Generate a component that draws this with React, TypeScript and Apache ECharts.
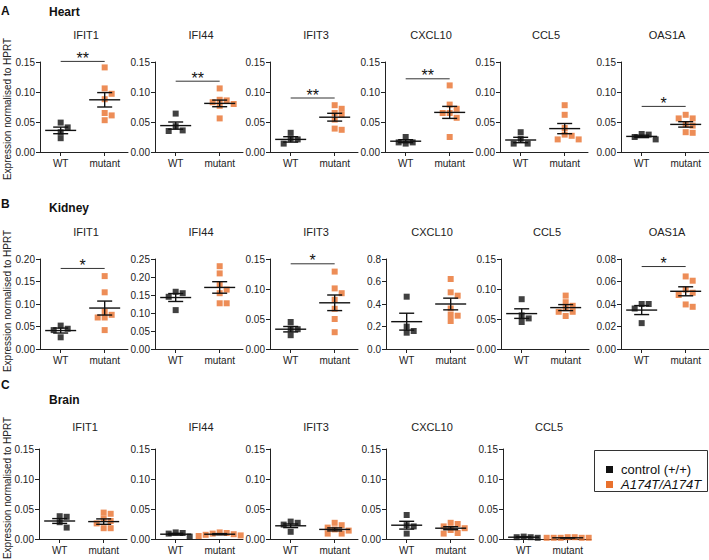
import React, { useEffect, useRef } from 'react';
import * as echarts from 'echarts';

// ---------- DATA ----------
const groupLabels = ['WT', 'mutant'];
const legendLabels = ['control (+/+)', 'A174T/A174T'];

// Heart (A)
const heartGenes = ['IFIT1', 'IFI44', 'IFIT3', 'CXCL10', 'CCL5', 'OAS1A'];
const heartWT = [
  [0.049, 0.041, 0.033, 0.023],
  [0.064, 0.043, 0.036, 0.035],
  [0.032, 0.022, 0.021, 0.014],
  [0.025, 0.016, 0.016, 0.014],
  [0.033, 0.022, 0.014, 0.014],
  [0.030, 0.029, 0.025, 0.021],
];
const heartMut = [
  [0.141, 0.106, 0.097, 0.088, 0.065, 0.061, 0.053],
  [0.106, 0.087, 0.086, 0.083, 0.080, 0.077, 0.056],
  [0.078, 0.072, 0.065, 0.062, 0.054, 0.039, 0.037],
  [0.111, 0.079, 0.072, 0.065, 0.065, 0.057, 0.025],
  [0.078, 0.062, 0.040, 0.029, 0.027, 0.021, 0.021],
  [0.062, 0.056, 0.056, 0.046, 0.044, 0.033, 0.032],
];
const heartMeanWT = [0.036, 0.044, 0.021, 0.018, 0.020, 0.026];
const heartSemWT = [0.0055, 0.006, 0.0045, 0.0025, 0.0045, 0.002];
const heartMeanMut = [0.087, 0.081, 0.058, 0.066, 0.039, 0.046];
const heartSemMut = [0.012, 0.0055, 0.0065, 0.010, 0.0085, 0.0045];
const heartYMax = [0.15, 0.15, 0.15, 0.15, 0.15, 0.15];
const heartYStep = [0.05, 0.05, 0.05, 0.05, 0.05, 0.05];
const heartSig = ['**', '**', '**', '**', '', '*'];
const heartSigY = [0.151, 0.118, 0.09, 0.122, 0, 0.076];

// Kidney (B)
const kidneyGenes = ['IFIT1', 'IFI44', 'IFIT3', 'CXCL10', 'CCL5', 'OAS1A'];
const kidneyWT = [
  [0.052, 0.045, 0.042, 0.026],
  [0.159, 0.155, 0.145, 0.108],
  [0.045, 0.034, 0.033, 0.023],
  [0.465, 0.199, 0.160, 0.145],
  [0.083, 0.056, 0.051, 0.045],
  [0.040, 0.040, 0.036, 0.023],
];
const kidneyMut = [
  [0.162, 0.126, 0.083, 0.076, 0.070, 0.070, 0.042],
  [0.230, 0.210, 0.178, 0.165, 0.155, 0.127, 0.127],
  [0.129, 0.101, 0.093, 0.082, 0.067, 0.050, 0.028],
  [0.622, 0.504, 0.474, 0.360, 0.302, 0.296, 0.249],
  [0.089, 0.078, 0.072, 0.068, 0.062, 0.062, 0.055],
  [0.0645, 0.0607, 0.0528, 0.050, 0.048, 0.0396, 0.0375],
];
const kidneyMeanWT = [0.041, 0.143, 0.033, 0.243, 0.059, 0.0346];
const kidneySemWT = [0.0055, 0.011, 0.0045, 0.075, 0.008, 0.004];
const kidneyMeanMut = [0.091, 0.171, 0.077, 0.40, 0.069, 0.0513];
const kidneySemMut = [0.0155, 0.016, 0.013, 0.052, 0.005, 0.004];
const kidneyYMax = [0.2, 0.25, 0.15, 0.8, 0.15, 0.08];
const kidneyYStep = [0.05, 0.05, 0.05, 0.2, 0.05, 0.02];
const kidneySig = ['*', '', '*', '', '', '*'];
const kidneySigY = [0.179, 0, 0.142, 0, 0, 0.0733];

// Brain (C)
const brainGenes = ['IFIT1', 'IFI44', 'IFIT3', 'CXCL10', 'CCL5'];
const brainWT = [
  [0.038, 0.037, 0.028, 0.019],
  [0.011, 0.010, 0.009, 0.004],
  [0.029, 0.027, 0.024, 0.012],
  [0.040, 0.023, 0.021, 0.009],
  [0.004, 0.003, 0.003, 0.002],
];
const brainMut = [
  [0.044, 0.042, 0.034, 0.030, 0.026, 0.018, 0.018],
  [0.011, 0.010, 0.009, 0.008, 0.007, 0.006, 0.005],
  [0.027, 0.023, 0.019, 0.016, 0.014, 0.009, 0.009],
  [0.027, 0.025, 0.021, 0.018, 0.015, 0.010, 0.009],
  [0.003, 0.003, 0.002, 0.002, 0.002, 0.002, 0.002],
];
const brainMeanWT = [0.030, 0.008, 0.022, 0.023, 0.003];
const brainSemWT = [0.004, 0.0015, 0.003, 0.0065, 0.0005];
const brainMeanMut = [0.029, 0.008, 0.016, 0.018, 0.002];
const brainSemMut = [0.0045, 0.001, 0.0025, 0.0025, 0.0002];
const brainYMax = [0.15, 0.15, 0.15, 0.15, 0.15];
const brainYStep = [0.05, 0.05, 0.05, 0.05, 0.05];
const brainSig = ['', '', '', '', ''];
const brainSigY = [0, 0, 0, 0, 0];

// ---------- STYLE / LAYOUT ----------
const ORANGE = '#E9712D';
const BLACK = '#111';
const AXIS = '#222';
const FONT = 'Liberation Sans, Arial, Helvetica, sans-serif';
const PW = 88;
const PH = 90;
const XMIN = -0.47;
const XMAX = 1.53;

const rows = [
  {
    letter: 'A', name: 'Heart', letterY: 11, nameY: 12, top: 62, titleY: 35, yNameC: 109,
    lefts: [40, 155, 270, 385, 500, 621],
    genes: heartGenes, wt: heartWT, mut: heartMut, meanWT: heartMeanWT, semWT: heartSemWT,
    meanMut: heartMeanMut, semMut: heartSemMut, yMax: heartYMax, yStep: heartYStep, sig: heartSig, sigY: heartSigY,
  },
  {
    letter: 'B', name: 'Kidney', letterY: 204, nameY: 208, top: 259, titleY: 232, yNameC: 301,
    lefts: [40, 155, 270, 386, 501, 621],
    genes: kidneyGenes, wt: kidneyWT, mut: kidneyMut, meanWT: kidneyMeanWT, semWT: kidneySemWT,
    meanMut: kidneyMeanMut, semMut: kidneySemMut, yMax: kidneyYMax, yStep: kidneyYStep, sig: kidneySig, sigY: kidneySigY,
  },
  {
    letter: 'C', name: 'Brain', letterY: 385, nameY: 400, top: 449, titleY: 427, yNameC: 488,
    lefts: [39, 155, 270, 386, 503],
    genes: brainGenes, wt: brainWT, mut: brainMut, meanWT: brainMeanWT, semWT: brainSemWT,
    meanMut: brainMeanMut, semMut: brainSemMut, yMax: brainYMax, yStep: brainYStep, sig: brainSig, sigY: brainSigY,
  },
];

// deterministic beeswarm offsets (in x units) so squares don't overlap
function swarm(vals: number[], yMax: number): number[] {
  const unitPx = PW / (XMAX - XMIN);
  const step = 3.5;
  const minD = 5.5;
  const placed: { x: number; y: number }[] = [];
  return vals.map((v) => {
    const y = (v / yMax) * PH;
    for (let k = 0; k < 60; k++) {
      const off = k === 0 ? 0 : (k % 2 === 1 ? 1 : -1) * Math.ceil(k / 2) * step;
      if (placed.every((p) => Math.abs(p.x - off) >= minD || Math.abs(p.y - y) >= minD)) {
        placed.push({ x: off, y });
        return off / unitPx;
      }
    }
    return 0;
  });
}

function buildOption() {
  const grid: any[] = [];
  const xAxis: any[] = [];
  const yAxis: any[] = [];
  const series: any[] = [];
  const graphic: any[] = [];
  let idx = 0;

  const txt = (x: number, y: number, text: string, opts: any = {}) => ({
    type: 'text',
    x,
    y,
    silent: true,
    rotation: opts.rotation || 0,
    style: {
      text,
      fontFamily: FONT,
      fontSize: opts.fontSize || 11,
      fontWeight: opts.fontWeight || 'normal',
      fontStyle: opts.fontStyle || 'normal',
      fill: opts.fill || BLACK,
      align: opts.align || 'center',
      textAlign: opts.align || 'center',
      verticalAlign: 'middle',
      textVerticalAlign: 'middle',
    },
  });

  rows.forEach((row) => {
    graphic.push(txt(1, row.letterY, row.letter, { fontSize: 12, fontWeight: 'bold', align: 'left' }));
    graphic.push(txt(49, row.nameY, row.name, { fontSize: 12, fontWeight: 'bold', align: 'left' }));
    graphic.push(
      txt(7, row.yNameC, 'Expression normalised to HPRT', { fontSize: 10, rotation: Math.PI / 2, fill: '#222' })
    );

    row.genes.forEach((gene, g) => {
      const left = row.lefts[g];
      const yMax = row.yMax[g];
      const step = row.yStep[g];
      const dec = step >= 0.1 ? 1 : 2;
      grid.push({ left, top: row.top, width: PW, height: PH, containLabel: false });
      graphic.push(txt(left + PW / 2 + 2, row.titleY, gene, { fontSize: 11, fill: '#222' }));

      xAxis.push({
        gridIndex: idx,
        type: 'value',
        min: XMIN,
        max: XMAX,
        splitLine: { show: false },
        axisLine: { show: true, onZero: false, lineStyle: { color: AXIS, width: 1 } },
        axisTick: { show: true, customValues: [0, 1], length: 4, lineStyle: { color: AXIS } },
        axisLabel: {
          show: true,
          customValues: [0, 1],
          formatter: (v: number) => (Math.round(v) === 0 ? groupLabels[0] : groupLabels[1]),
          fontFamily: FONT,
          fontSize: 10,
          color: '#222',
          margin: 6,
        },
      });
      yAxis.push({
        gridIndex: idx,
        type: 'value',
        min: 0,
        max: yMax,
        interval: step,
        splitLine: { show: false },
        axisLine: { show: true, onZero: false, lineStyle: { color: AXIS, width: 1 } },
        axisTick: { show: true, length: 4, lineStyle: { color: AXIS } },
        axisLabel: {
          formatter: (v: number) => v.toFixed(dec),
          fontFamily: FONT,
          fontSize: 10,
          color: '#222',
          margin: 5,
        },
      });

      const wtVals = row.wt[g];
      const mutVals = row.mut[g];
      const wtOff = swarm(wtVals, yMax);
      const mutOff = swarm(mutVals, yMax);

      series.push({
        type: 'scatter',
        xAxisIndex: idx,
        yAxisIndex: idx,
        symbol: 'rect',
        symbolSize: 6,
        itemStyle: { color: BLACK },
        data: wtVals.map((v, i) => [0 + wtOff[i], v]),
        silent: true,
      });
      series.push({
        type: 'scatter',
        xAxisIndex: idx,
        yAxisIndex: idx,
        symbol: 'rect',
        symbolSize: 6,
        itemStyle: { color: ORANGE },
        data: mutVals.map((v, i) => [1 + mutOff[i], v]),
        silent: true,
      });
      series.push({
        type: 'custom',
        xAxisIndex: idx,
        yAxisIndex: idx,
        silent: true,
        clip: false,
        z: 5,
        data: [
          [0, row.meanWT[g], row.semWT[g]],
          [1, row.meanMut[g], row.semMut[g]],
        ],
        renderItem: (params: any, api: any) => {
          const x = api.value(0);
          const m = api.value(1);
          const s = api.value(2);
          const pm = api.coord([x, m]);
          const pt = api.coord([x, m + s]);
          const pb = api.coord([x, m - s]);
          const style = { stroke: BLACK, lineWidth: 1.4, fill: null };
          return {
            type: 'group',
            children: [
              { type: 'line', shape: { x1: pm[0] - 15.5, y1: pm[1], x2: pm[0] + 15.5, y2: pm[1] }, style },
              { type: 'line', shape: { x1: pt[0], y1: pt[1], x2: pb[0], y2: pb[1] }, style },
              { type: 'line', shape: { x1: pt[0] - 7.5, y1: pt[1], x2: pt[0] + 7.5, y2: pt[1] }, style },
              { type: 'line', shape: { x1: pb[0] - 7.5, y1: pb[1], x2: pb[0] + 7.5, y2: pb[1] }, style },
            ],
          };
        },
      });

      const stars = row.sig[g];
      if (stars) {
        series.push({
          type: 'custom',
          xAxisIndex: idx,
          yAxisIndex: idx,
          silent: true,
          clip: false,
          z: 5,
          data: [[0, row.sigY[g], 1]],
          renderItem: (params: any, api: any) => {
            const y = api.value(1);
            const p1 = api.coord([api.value(0), y]);
            const p2 = api.coord([api.value(2), y]);
            return {
              type: 'group',
              children: [
                {
                  type: 'line',
                  shape: { x1: p1[0], y1: p1[1], x2: p2[0], y2: p2[1] },
                  style: { stroke: '#333', lineWidth: 1 },
                },
                {
                  type: 'text',
                  x: (p1[0] + p2[0]) / 2,
                  y: p1[1] + 5,
                  style: {
                    text: stars,
                    fontFamily: FONT,
                    fontSize: 16,
                    fill: BLACK,
                    align: 'center',
                    textAlign: 'center',
                    verticalAlign: 'bottom',
                    textVerticalAlign: 'bottom',
                  },
                },
              ],
            };
          },
        });
      }
      idx++;
    });
  });

  // legend box
  graphic.push({
    type: 'rect',
    silent: true,
    shape: { x: 594.5, y: 450.5, width: 113, height: 41 },
    style: { fill: '#fff', stroke: '#333', lineWidth: 1 },
  });
  graphic.push({
    type: 'rect',
    silent: true,
    shape: { x: 606, y: 466, width: 7, height: 7 },
    style: { fill: BLACK },
  });
  graphic.push({
    type: 'rect',
    silent: true,
    shape: { x: 606, y: 481, width: 7, height: 7 },
    style: { fill: ORANGE },
  });
  graphic.push(txt(621, 469.5, legendLabels[0], { fontSize: 13, align: 'left', fill: '#111' }));
  graphic.push(txt(621, 484.5, legendLabels[1], { fontSize: 13, align: 'left', fontStyle: 'italic', fill: '#111' }));

  return {
    animation: false,
    backgroundColor: '#fff',
    grid,
    xAxis,
    yAxis,
    series,
    graphic,
  };
}

export default function App() {
  const ref = useRef<HTMLDivElement>(null);
  useEffect(() => {
    if (!ref.current) return;
    const chart = echarts.init(ref.current, undefined, { renderer: 'svg' });
    chart.setOption(buildOption() as any);
    return () => chart.dispose();
  }, []);
  return (
    <div
      ref={ref}
      style={{ position: 'absolute', left: 0, top: 0, width: 709, height: 560, background: '#fff' }}
    />
  );
}
